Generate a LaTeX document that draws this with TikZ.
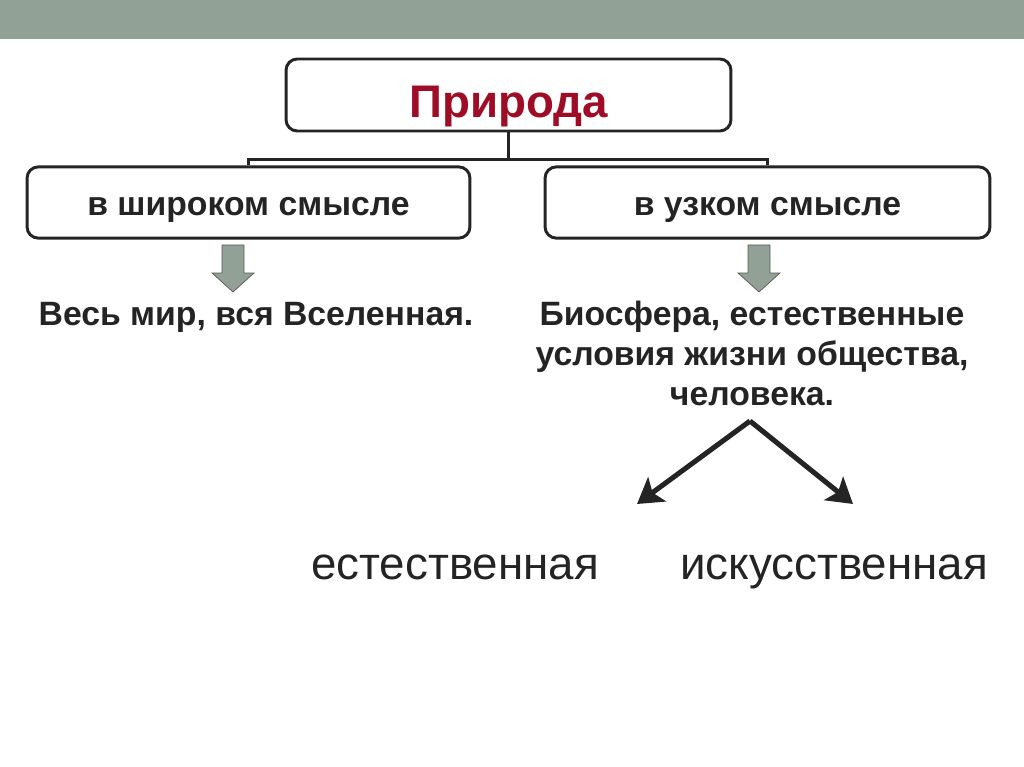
\documentclass[tikz,border=0pt]{standalone}
\usepackage{fontspec}
\setmainfont{Liberation Sans}
\usetikzlibrary{calc}
\usetikzlibrary{arrows.meta}
\definecolor{bandgray}{RGB}{146,161,149}
\definecolor{natred}{RGB}{158,12,38}
\definecolor{inkdark}{RGB}{36,36,36}
\tikzstyle{termbox}=[draw=inkdark,line width=2.1pt,rounded corners=0.28cm,fill=white,text=inkdark,text depth=0pt]
\tikzstyle{treeline}=[draw=inkdark,line width=2pt]
\tikzstyle{bodytext}=[text=inkdark,font=\fontsize{24}{28.4}\selectfont\bfseries,align=center,anchor=base]
\tikzstyle{bigtext}=[text=inkdark,font=\fontsize{32.5}{38}\selectfont,anchor=base]
\tikzstyle{splitarrow}=[inkdark,line width=3.6pt,-{Stealth[length=0.62cm,width=0.75cm,inset=0.14cm]}]
\newcommand{\blockarrow}[2]{% Syntax: {center x}{top y} in px
	\filldraw[fill=bandgray,draw=gray!70!black,line width=0.5pt]
		(#1-11,#2) -- (#1+11,#2) -- (#1+11,#2+28) -- (#1+21,#2+28)
		-- (#1,#2+47) -- (#1-21,#2+28) -- (#1-11,#2+28) -- cycle;
}
\begin{document}
\begin{tikzpicture}[x=0.025cm,y=-0.025cm]
	\useasboundingbox (0,0) rectangle (1024,767);
	\fill[bandgray] (0,0) rectangle (1024,39);
	% boxes
	\node[termbox,minimum width=11.12cm,minimum height=1.8cm,text height=32.6pt,text=natred,font=\fontsize{32.5}{38}\selectfont\bfseries] (nature) at (508.5,95) {Природа};
	\node[termbox,minimum width=11.07cm,minimum height=1.78cm,text height=19.1pt,font=\fontsize{24}{28}\selectfont\bfseries] (wide) at (248.5,202.5) {в широком смысле};
	\node[termbox,minimum width=11.12cm,minimum height=1.78cm,text height=19.1pt,font=\fontsize{24}{28}\selectfont\bfseries] (narrow) at (767.5,202.5) {в узком смысле};
	\coordinate (fork) at ($(nature.south)+(0,27)$);
	\draw[treeline] (nature.south) -- (fork);
	\draw[treeline] (wide.north) |- (fork) -| (narrow.north);
	\blockarrow{233}{245}
	\blockarrow{759}{245}
	\node[bodytext] (world) at (256,325) {Весь мир, вся Вселенная.};
	\node[bodytext] (biosphere) at (752,405) {Биосфера, естественные\\условия жизни общества,\\человека.};
	% two kinds
	\coordinate (apex) at (750,421);
	\coordinate (leftend) at (637,504);
	\coordinate (rightend) at (853,504);
	\draw[splitarrow] (apex) -- (leftend);
	\draw[splitarrow] (apex) -- (rightend);
	\node[bigtext] (natural) at (455,579) {естественная};
	\node[bigtext] (artificial) at (834,579) {искусственная};
\end{tikzpicture}
\end{document}
